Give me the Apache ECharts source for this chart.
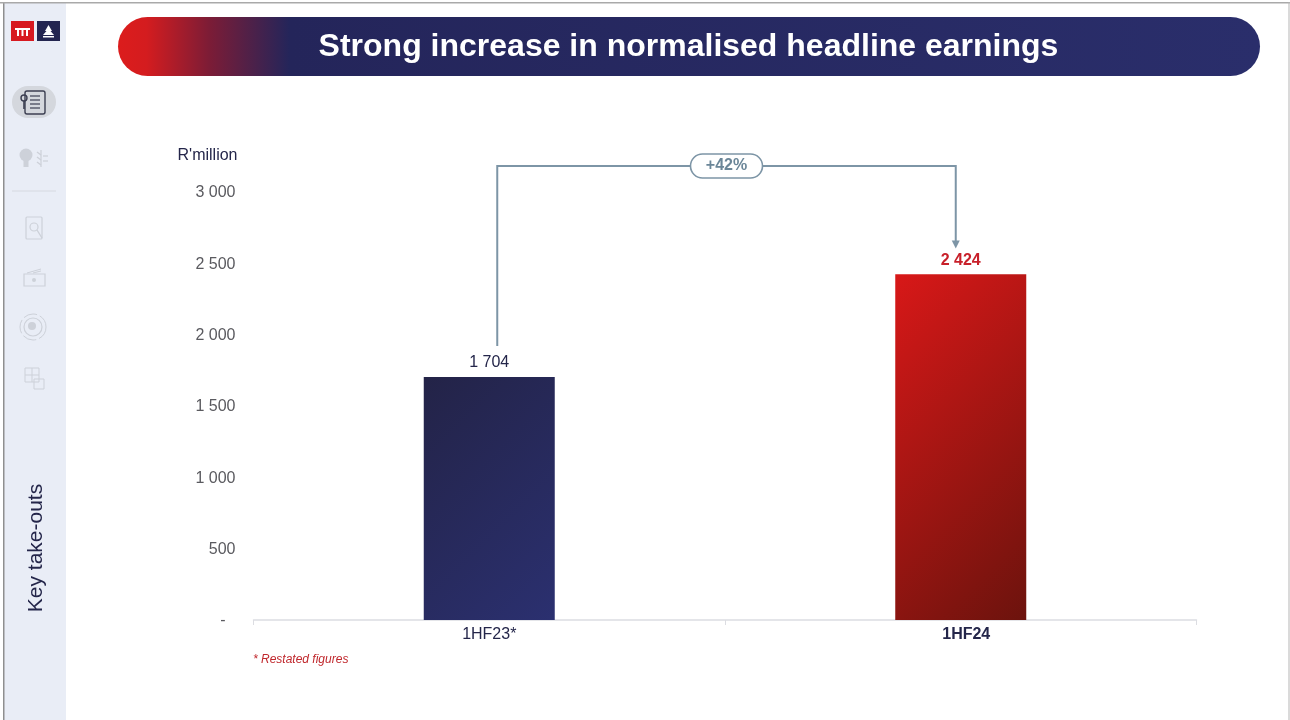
<!DOCTYPE html>
<html>
<head>
<meta charset="utf-8">
<style>html,body{margin:0;padding:0;background:#fff}#c{width:1290px;height:720px}</style>
<script src="https://cdn.jsdelivr.net/npm/echarts@6/dist/echarts.min.js"></script>
</head>
<body>
<div id="c"></div>
<script>
const categories = ['1HF23*', '1HF24'];
const earnings = [1704, 2424];
const yTicks = [0, 500, 1000, 1500, 2000, 2500, 3000];
const changeLabel = '+42%';
const connectorLevels = { start: 1920, top: 3182, end: 2604 };
const titleText = 'Strong increase in normalised headline earnings';

const font = '"Liberation Sans", Arial, sans-serif';
const grad = (a, b, x2, y2) => ({ type: 'linear', x: 0, y: 0, x2, y2, colorStops: [{ offset: 0, color: a }, { offset: 1, color: b }] });
const iconGrey = '#cdd1d9';
const line = (x1, y1, x2, y2, stroke, lineWidth) => ({ type: 'line', shape: { x1, y1, x2, y2 }, style: { stroke, lineWidth: lineWidth || 1 }, silent: true });
const rect = (x, y, width, height, style, r) => ({ type: 'rect', shape: { x, y, width, height, r: r || 0 }, style, silent: true });
const circ = (cx, cy, r, style) => ({ type: 'circle', shape: { cx, cy, r }, style, silent: true });
const text = (x, y, t, style, extra) => Object.assign({ type: 'text', x, y, style: Object.assign({ text: t, fontFamily: font, textVerticalAlign: 'middle', verticalAlign: 'middle' }, style), silent: true }, extra || {});
const stroke = (c, w) => ({ fill: 'none', stroke: c, lineWidth: w || 1 });

const decorations = [
  rect(0, 0, 66, 720, { fill: '#e9edf6' }),
  rect(0, 0, 4, 720, { fill: '#fff' }),
  rect(3, 0, 1.5, 720, { fill: '#8f8f8f' }),
  rect(0, 2, 1290, 1.5, { fill: '#a9a9a9' }),
  rect(0, 0, 1290, 2, { fill: '#fff' }),
  rect(1288.5, 2, 1, 718, { fill: '#b5b5b5' }),
  // logo
  rect(11, 21, 23, 20, { fill: '#d71920' }),
  rect(37, 21, 23, 20, { fill: '#232550' }),
  rect(15, 28, 15, 2, { fill: '#fff' }),
  rect(17, 28, 2, 8, { fill: '#fff' }),
  rect(21.5, 28, 2, 8, { fill: '#fff' }),
  rect(26, 28, 2, 8, { fill: '#fff' }),
  { type: 'polygon', shape: { points: [[48.5, 25], [52, 31], [50.5, 31], [54, 35], [43, 35], [46.5, 31], [45, 31]] }, style: { fill: '#fff' }, silent: true },
  rect(43, 36, 11, 1.5, { fill: '#fff' }),
  // active icon
  rect(12, 86, 44, 32, { fill: '#d4d7dd' }, 16),
  rect(25, 91, 20, 23, stroke('#3c3f52', 1.4), 2),
  circ(24, 98, 3, stroke('#3c3f52', 1.4)),
  line(24, 101, 24, 109, '#3c3f52', 1.6),
  line(30, 96, 40, 96, '#3c3f52', 1.2), line(30, 100, 40, 100, '#3c3f52', 1.2),
  line(30, 104, 40, 104, '#3c3f52', 1.2), line(30, 108, 40, 108, '#3c3f52', 1.2),
  // bulb + plant
  circ(26, 155, 6.5, { fill: iconGrey }),
  rect(23.5, 161, 5, 6, { fill: iconGrey }),
  line(41, 150, 41, 167, iconGrey, 1.2),
  line(41, 155, 37, 152, iconGrey, 1.4), line(41, 160, 37, 157, iconGrey, 1.4), line(41, 165, 37, 162, iconGrey, 1.4),
  line(43, 156, 48, 156, iconGrey, 1.2), line(43, 161, 48, 161, iconGrey, 1.2),
  line(12, 191, 56, 191, '#d6d9e0', 1),
  // report icon
  rect(26, 217, 16, 22, stroke(iconGrey, 1.2), 1),
  circ(34, 227, 4, stroke(iconGrey, 1.2)),
  line(37, 230, 42, 238, iconGrey, 1.4),
  // cash icon
  rect(24, 274, 21, 12, stroke(iconGrey, 1.2)),
  circ(34, 280, 2, { fill: iconGrey }),
  line(27, 273, 41, 269, iconGrey, 1), line(33, 273, 41, 271, iconGrey, 1),
  // globe icon
  circ(33, 327, 13, { fill: 'none', stroke: iconGrey, lineWidth: 1, lineDash: [14, 3] }),
  circ(33, 327, 9, stroke(iconGrey, 1.2)),
  circ(32, 326, 4, { fill: iconGrey }),
  // puzzle icon
  rect(25, 368, 14, 14, stroke(iconGrey, 1)),
  rect(34, 379, 10, 10, stroke(iconGrey, 1)),
  line(32, 368, 32, 382, iconGrey, 1), line(25, 375, 39, 375, iconGrey, 1),
  text(36, 548, 'Key take-outs', { fill: '#24264a', fontSize: 21, textAlign: 'center', align: 'center' }, { rotation: Math.PI / 2 }),
  // title banner
  rect(118, 17, 1142, 59, {
    fill: { type: 'linear', x: 0, y: 0, x2: 1, y2: 0, colorStops: [
      { offset: 0, color: '#dc1c1c' }, { offset: 0.025, color: '#d41c1f' }, { offset: 0.08, color: '#7c1c36' }, { offset: 0.15, color: '#24255a' }, { offset: 1, color: '#2a2e6b' }] }
  }, 29.5),
  text(688.5, 47, titleText, { fill: '#fff', fontSize: 32, fontWeight: 'bold', textAlign: 'center', align: 'center' }),
  text(253, 660, '* Restated figures', { fill: '#c0282d', fontSize: 12, fontStyle: 'italic', textAlign: 'left', align: 'left' })
];

const option = {
  animation: false,
  backgroundColor: '#ffffff',
  grid: { left: 253.5, right: 93.5, top: 192, bottom: 100, containLabel: false },
  xAxis: {
    type: 'category',
    data: [
      { value: categories[0], textStyle: { color: '#24264a', fontWeight: 'normal' } },
      { value: categories[1], textStyle: { padding: [0, 0, 0, 11], color: '#24264a', fontWeight: 'bold' } }
    ],
    axisLine: { lineStyle: { color: '#dcdde2', width: 1.5 } },
    axisTick: { show: true, length: 5, lineStyle: { color: '#dcdde2' } },
    axisLabel: { fontFamily: font, fontSize: 16, margin: 7 }
  },
  yAxis: {
    type: 'value', min: yTicks[0], max: yTicks[yTicks.length - 1], interval: yTicks[1] - yTicks[0],
    name: "R'million",
    nameLocation: 'end', nameGap: 28,
    nameTextStyle: { fontFamily: font, fontSize: 16, color: '#24264a', align: 'right', padding: [0, 16, 0, 0] },
    axisLine: { show: false }, axisTick: { show: false }, splitLine: { show: false },
    axisLabel: {
      fontFamily: font, fontSize: 16, color: '#5a5a5f', margin: 18, padding: [2, 0, 0, 0],
      formatter: v => v === 0 ? '{z|-}' : String(v).replace(/\B(?=(\d{3})+$)/g, ' '),
      rich: { z: { fontFamily: font, fontSize: 16, color: '#5a5a5f', padding: [0, 10, 0, 0] } }
    }
  },
  series: [
    {
      type: 'bar', barWidth: 131,
      data: [
        { value: earnings[0], itemStyle: { color: grad('#232347', '#2b3070', 1.43, 0.77) },
          label: { color: '#24264a', fontWeight: 'normal' } },
        { value: earnings[1], itemStyle: { color: grad('#d81818', '#6c130d', 1.82, 0.69) },
          label: { color: '#c8202a', fontWeight: 'bold' } }
      ],
      label: {
        show: true, position: 'top', distance: 6, fontFamily: font, fontSize: 16,
        formatter: p => String(p.value).replace(/\B(?=(\d{3})+$)/g, ' ')
      }
    },
    {
      type: 'custom', silent: true, clip: false, z: 5,
      data: [[0, connectorLevels.start, connectorLevels.top, connectorLevels.end]],
      encode: { x: 0, y: 1 },
      renderItem: (params, api) => {
        const c = '#7d95a6';
        const s = api.coord([0, api.value(1)]);
        const t = api.coord([0, api.value(2)]);
        const e = api.coord([1, api.value(3)]);
        const x0 = s[0] + 8, x1 = e[0] - 5, yt = t[1];
        const mx = (x0 + x1) / 2;
        return { type: 'group', children: [
          { type: 'polyline', shape: { points: [[x0, s[1]], [x0, yt], [x1, yt], [x1, e[1] - 6]] }, style: { fill: 'none', stroke: c, lineWidth: 2 } },
          { type: 'polygon', shape: { points: [[x1 - 4, e[1] - 8], [x1 + 4, e[1] - 8], [x1, e[1]]] }, style: { fill: c } },
          { type: 'rect', shape: { x: mx - 36, y: yt - 12, width: 72, height: 24, r: 12 }, style: { fill: '#fff', stroke: c, lineWidth: 1.6 } },
          { type: 'text', x: mx, y: yt, style: { text: changeLabel, fill: '#6b8698', fontFamily: font, fontSize: 16, fontWeight: 'bold', align: 'center', verticalAlign: 'middle' } }
        ] };
      }
    }
  ],
  graphic: { elements: decorations }
};
const chart = echarts.init(document.getElementById('c'), null, { renderer: 'canvas' });
chart.setOption(option);
</script>
</body>
</html>
